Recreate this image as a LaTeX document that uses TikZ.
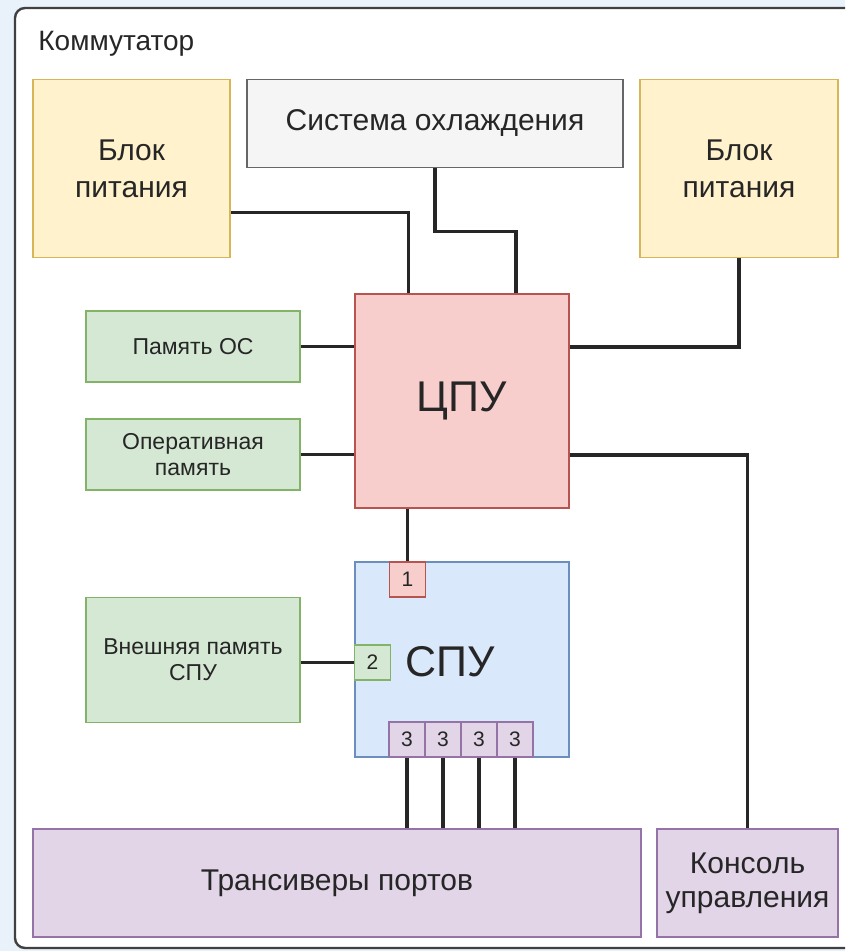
\documentclass[tikz,border=0pt]{standalone}
\usepackage{fontspec}
\setmainfont{Liberation Sans}
\usetikzlibrary{calc}
\definecolor{bgblue}{HTML}{E9F2FB}
\definecolor{yfill}{HTML}{FFF2CC}\definecolor{ydraw}{HTML}{D6B656}
\definecolor{gfill}{HTML}{F5F5F5}\definecolor{gdraw}{HTML}{666666}
\definecolor{rfill}{HTML}{F8CECC}\definecolor{rdraw}{HTML}{B85450}
\definecolor{grfill}{HTML}{D5E8D4}\definecolor{grdraw}{HTML}{82B366}
\definecolor{bfill}{HTML}{DAE8FC}\definecolor{bdraw}{HTML}{6C8EBF}
\definecolor{pfill}{HTML}{E1D5E7}\definecolor{pdraw}{HTML}{9673A6}
\begin{document}
\begin{tikzpicture}[x=0.5pt,y=-0.5pt,
    blk/.style={draw,line width=0.8pt,inner sep=0pt,align=center,text=black!85,
      font=\fontsize{15}{17}\selectfont},
    small/.style={font=\fontsize{11.5}{13}\selectfont},
    port/.style={blk,minimum width=18pt,minimum height=17.5pt,font=\fontsize{10.5}{12}\selectfont},
    wire/.style={line width=1.6pt,black!85}]
  \useasboundingbox (0,0) rectangle (845,951);
  \clip (0,0) rectangle (845,951);
  \fill[bgblue] (0,0) rectangle (845,951);
  \draw[fill=white,draw=black!75,line width=1.2pt,rounded corners=5pt] (15,8) rectangle (862,948);
  \path (38,51) node[anchor=base west,inner sep=0pt,text=black!85,font=\fontsize{14}{16}\selectfont](title){Коммутатор};
  % upper row
  \path (131.5,168.5) node[blk,fill=yfill,draw=ydraw,minimum width=98.5pt,minimum height=89pt,
    font=\fontsize{15}{18.5}\selectfont](bp1){Блок\\питания};
  \path (435,123.5) node[blk,fill=gfill,draw=gdraw,minimum width=188pt,minimum height=44pt](cooling){Система охлаждения};
  \path (739,168.5) node[blk,fill=yfill,draw=ydraw,minimum width=99pt,minimum height=89pt,
    font=\fontsize{15}{18.5}\selectfont](bp2){Блок\\питания};
  % processor and memory
  \path (462,401) node[blk,fill=rfill,draw=rdraw,minimum size=107pt,font=\fontsize{21.5}{24}\selectfont](cpu){ЦПУ};
  \path (193,346.5) node[blk,small,fill=grfill,draw=grdraw,minimum width=107pt,minimum height=35.5pt](osmem){Память ОС};
  \path (193,454.5) node[blk,small,fill=grfill,draw=grdraw,minimum width=107pt,minimum height=35.5pt](ram){Оперативная\\память};
  % switching unit
  \path (462,659.5) node[blk,fill=bfill,draw=bdraw,minimum width=107pt,minimum height=97.5pt](spu){};
  \path (450,662) node[text=black!85,font=\fontsize{21.5}{24}\selectfont](spulabel){СПУ};
  \path (193,660) node[blk,small,fill=grfill,draw=grdraw,minimum width=107pt,minimum height=62.5pt](extmem){Внешняя память\\СПУ};
  \path (407.5,579.5) node[port,fill=rfill,draw=rdraw](port1){1};
  \path (372.5,662.5) node[port,fill=grfill,draw=grdraw](port2){2};
  \foreach \x/\n in {407/a,443/b,479/c,515/d}
    \path (\x,739.5) node[port,fill=pfill,draw=pdraw](port3\n){3};
  % bottom row
  \path (337,883) node[blk,fill=pfill,draw=pdraw,minimum width=304pt,minimum height=54pt](trx){Трансиверы портов};
  \path (747.5,883) node[blk,fill=pfill,draw=pdraw,minimum width=90.5pt,minimum height=54pt](console){Консоль\\управления};
  % links
  \draw[wire] ($(bp1.east)+(0,44)$) -| ($(cpu.north west)!.25!(cpu.north east)$);
  \draw[wire] (cooling.south) -- ++(0,63) -| ($(cpu.north west)!.75!(cpu.north east)$);
  \draw[wire] (bp2.south) |- ($(cpu.north east)!.25!(cpu.south east)$);
  \draw[wire] (osmem.east) -- (osmem.east -| cpu.west);
  \draw[wire] (ram.east) -- (ram.east -| cpu.west);
  \draw[wire] ($(cpu.north east)!.75!(cpu.south east)$) -| (console.north);
  \draw[wire] (cpu.south -| port1.north) -- (port1.north);
  \draw[wire] (port2.west -| extmem.east) -- (port2.west);
  \foreach \n in {a,b,c,d}
    \draw[wire] (port3\n.south) -- (port3\n.south |- trx.north);
\end{tikzpicture}
\end{document}
